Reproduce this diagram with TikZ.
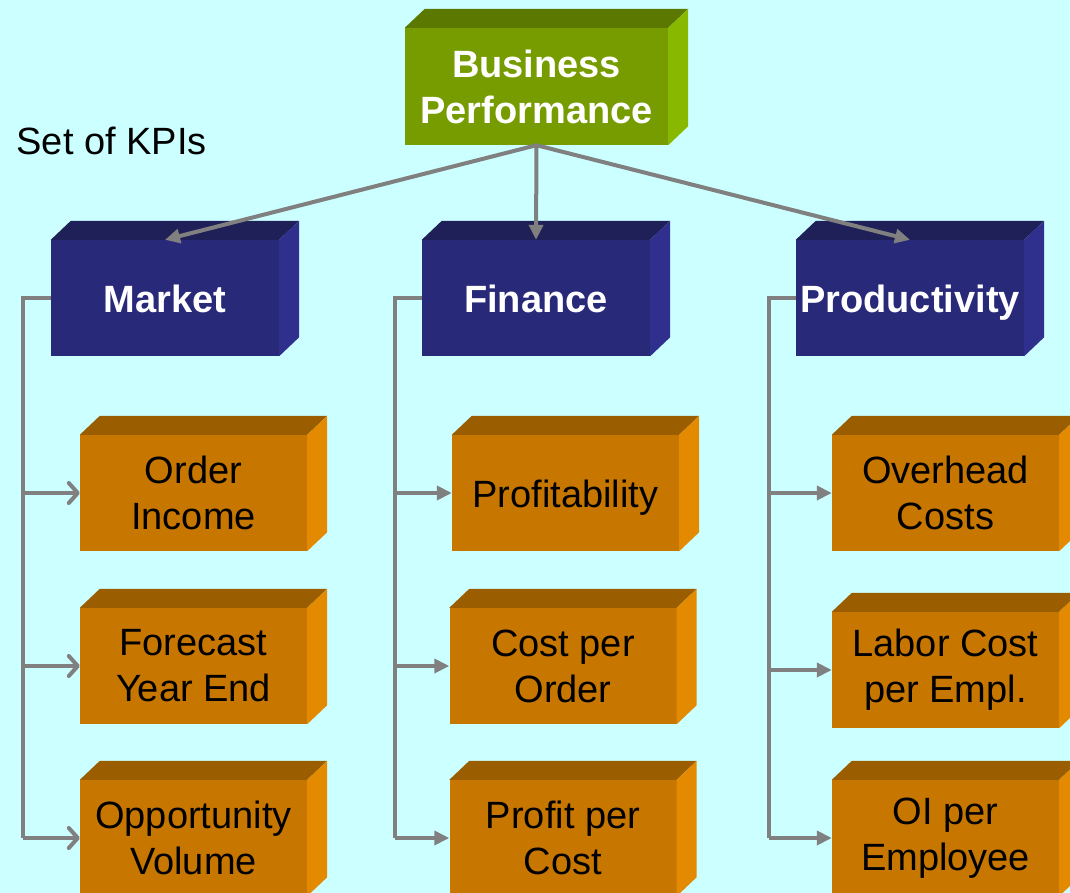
\documentclass[tikz,border=0pt]{standalone}
\usepackage{fontspec}
\setmainfont{Liberation Sans}
\usetikzlibrary{arrows.meta}
\definecolor{sky}{HTML}{CCFFFF}
\definecolor{olive}{HTML}{779C00}
\definecolor{olivetop}{HTML}{5B7800}
\definecolor{oliveside}{HTML}{88B800}
\definecolor{navy}{HTML}{29297A}
\definecolor{navytop}{HTML}{202058}
\definecolor{navyside}{HTML}{2F2F8E}
\definecolor{amber}{HTML}{C77600}
\definecolor{ambertop}{HTML}{9A5E00}
\definecolor{amberside}{HTML}{E38A00}
\definecolor{wire}{HTML}{808080}
\tikzset{
  block/.style = {rectangle, inner sep = 0, align = center, minimum width = 227, minimum height = 116, font = \fontsize{38}{46}\selectfont},
  goal/.style = {block, fill = olive, text = white, minimum width = 263, minimum height = 117, font = \fontsize{38}{46}\selectfont\bfseries},
  oneline/.style = {text height = 29, text depth = 0},
  area/.style = {block, oneline, fill = navy, text = white, minimum width = 228, font = \fontsize{38}{46}\selectfont\bfseries},
  kpi/.style = {block, fill = amber, text = black},
  link/.style = {draw = wire, line width = 4},
  feed/.style = {link, -{Triangle[length = 15, width = 14]}},
  feedopen/.style = {link, -{Straight Barb[length = 9, width = 20, round]}}
}

\begin{document}
\begin{tikzpicture}[x = 1pt, y = -1pt]
  \fill [sky] (0, 0) rectangle (1070, 893);
  \useasboundingbox (0, 0) rectangle (1070, 893);

  \node [anchor = base west, font = \fontsize{38}{46}\selectfont] (kpis) at (13, 155) {Set of KPIs};

  % top level
  \node [goal] (perf) at (536.5, 86.5) {Business\\Performance};

  % the three areas
  \node [area] (market) at (165, 298) {Market};
  \node [area] (finance) at (536, 298) {Finance};
  \node [area] (prod) at (910, 298) {Productivity};

  % indicators, column by column
  \node [kpi] (order) at (193.5, 493) {Order\\Income};
  \node [kpi] (forecast) at (193.5, 666) {Forecast\\Year End};
  \node [kpi] (oppvol) at (193.5, 838) {Opportunity\\Volume};

  \node [kpi, oneline] (profit) at (565.5, 493) {Profitability};
  \node [kpi] (costord) at (563, 666) {Cost per\\Order};
  \node [kpi] (profcost) at (563, 838) {Profit per\\Cost};

  \node [kpi] (overhead) at (945.5, 493) {Overhead\\Costs};
  \node [kpi] (labor) at (945.5, 670) {Labor Cost\\per Empl.};
  \node [kpi] (oiemp) at (945.5, 838) {OI per\\Employee};

  % top and side faces of each block
  \foreach \n/\t/\s in {perf/olivetop/oliveside,
      market/navytop/navyside, finance/navytop/navyside, prod/navytop/navyside,
      order/ambertop/amberside, forecast/ambertop/amberside, oppvol/ambertop/amberside,
      profit/ambertop/amberside, costord/ambertop/amberside, profcost/ambertop/amberside,
      overhead/ambertop/amberside, labor/ambertop/amberside, oiemp/ambertop/amberside} {
    \fill [\t] (\n.north west) -- ([shift = {(20, -19)}] \n.north west)
      -- ([shift = {(20, -19)}] \n.north east) -- (\n.north east) -- cycle;
    \fill [\s] (\n.north east) -- ([shift = {(20, -19)}] \n.north east)
      -- ([shift = {(20, -19)}] \n.south east) -- (\n.south east) -- cycle;
  }

  % from the top block down to the areas
  \draw [feed] (perf.south) -- (market.north);
  \draw [feed] (perf.south) -- (finance.north);
  \draw [feed] (perf.south) -- (prod.north);

  % trunks
  \coordinate (mtrunk) at (23, 298);
  \coordinate (ftrunk) at (395, 298);
  \coordinate (ptrunk) at (769, 298);

  \draw [link] (market.west) -- (mtrunk) -- (mtrunk |- oppvol.west);
  \draw [link] (finance.west) -- (ftrunk) -- (ftrunk |- profcost.west);
  \draw [link] (prod.west) -- (ptrunk) -- (ptrunk |- oiemp.west);

  \foreach \k in {order, forecast, oppvol} {
    \draw [feedopen] (mtrunk |- \k.west) -- (\k.west);
  }
  \foreach \k in {profit, costord, profcost} {
    \draw [feed] (ftrunk |- \k.west) -- (\k.west);
  }
  \foreach \k in {overhead, labor, oiemp} {
    \draw [feed] (ptrunk |- \k.west) -- (\k.west);
  }
\end{tikzpicture}
\end{document}
